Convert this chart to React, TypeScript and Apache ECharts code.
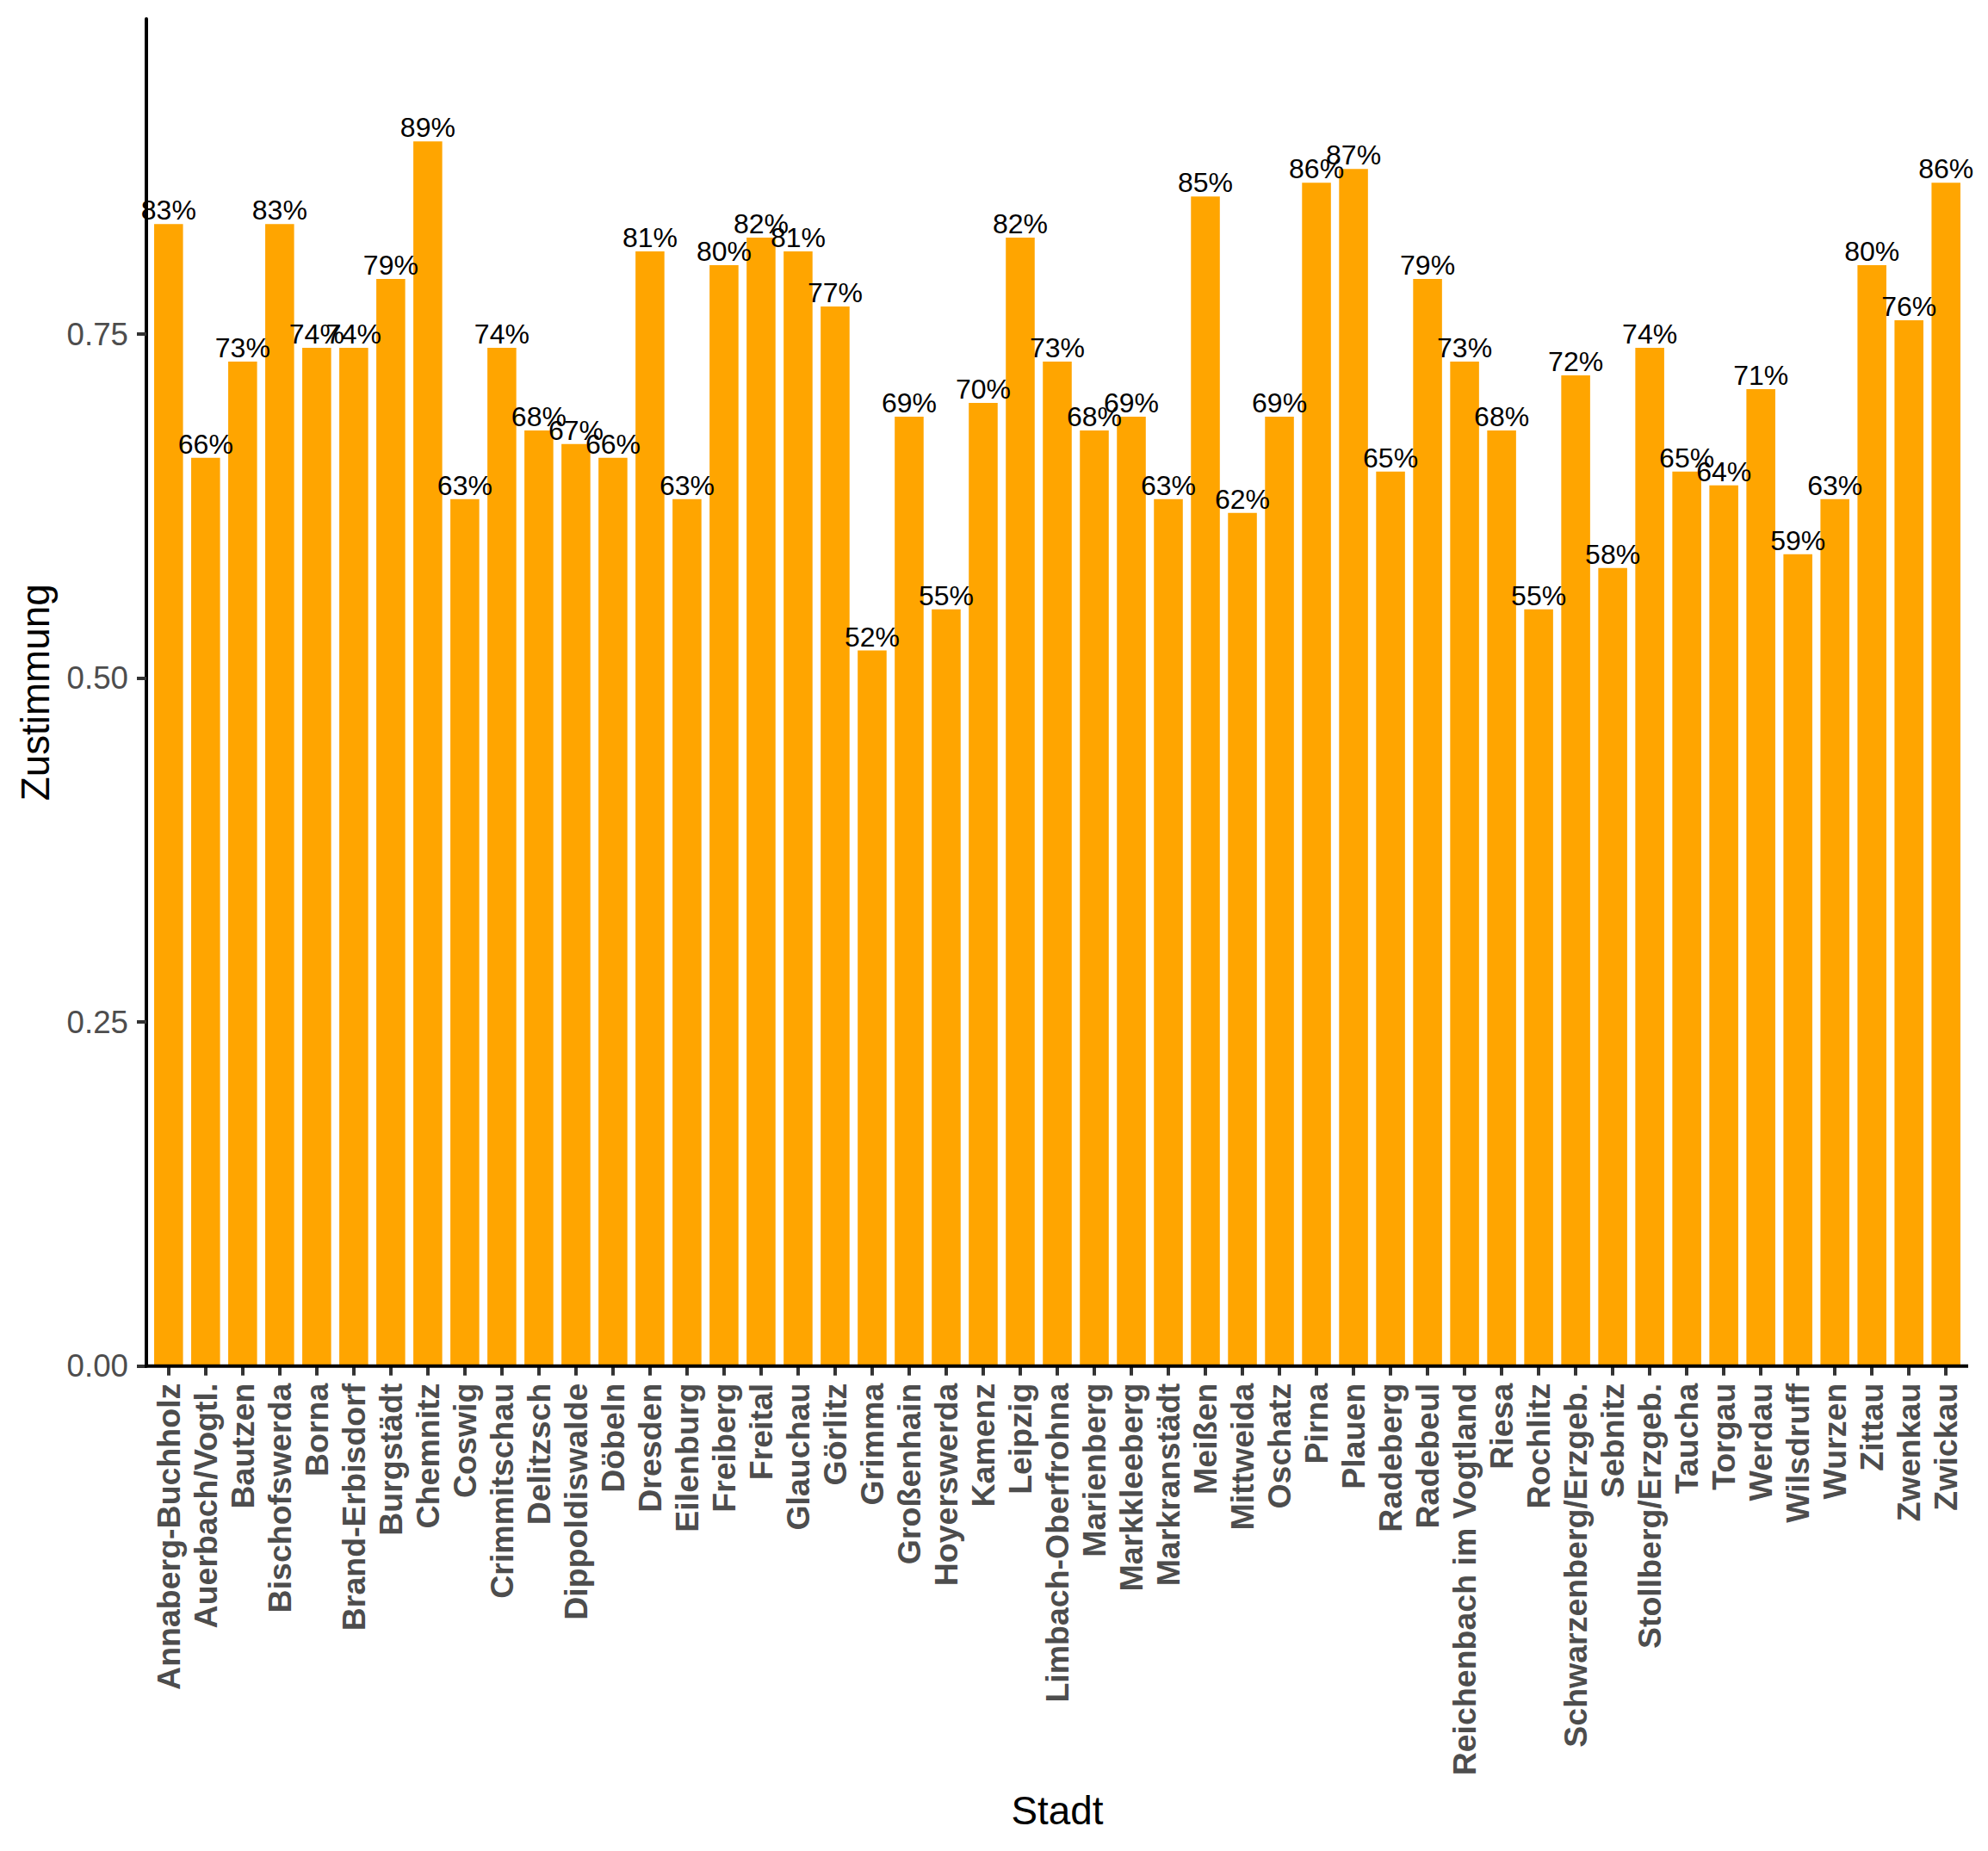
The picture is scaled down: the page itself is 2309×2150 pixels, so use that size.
import React, { useEffect, useRef } from "react";
import * as echarts from "echarts";

const cities = [
  "Annaberg-Buchholz", "Auerbach/Vogtl.", "Bautzen", "Bischofswerda", "Borna",
  "Brand-Erbisdorf", "Burgstädt", "Chemnitz", "Coswig", "Crimmitschau",
  "Delitzsch", "Dippoldiswalde", "Döbeln", "Dresden", "Eilenburg",
  "Freiberg", "Freital", "Glauchau", "Görlitz", "Grimma",
  "Großenhain", "Hoyerswerda", "Kamenz", "Leipzig", "Limbach-Oberfrohna",
  "Marienberg", "Markkleeberg", "Markranstädt", "Meißen", "Mittweida",
  "Oschatz", "Pirna", "Plauen", "Radeberg", "Radebeul",
  "Reichenbach im Vogtland", "Riesa", "Rochlitz", "Schwarzenberg/Erzgeb.", "Sebnitz",
  "Stollberg/Erzgeb.", "Taucha", "Torgau", "Werdau", "Wilsdruff",
  "Wurzen", "Zittau", "Zwenkau", "Zwickau",
];

const approval = [
  0.83, 0.66, 0.73, 0.83, 0.74,
  0.74, 0.79, 0.89, 0.63, 0.74,
  0.68, 0.67, 0.66, 0.81, 0.63,
  0.80, 0.82, 0.81, 0.77, 0.52,
  0.69, 0.55, 0.70, 0.82, 0.73,
  0.68, 0.69, 0.63, 0.85, 0.62,
  0.69, 0.86, 0.87, 0.65, 0.79,
  0.73, 0.68, 0.55, 0.72, 0.58,
  0.74, 0.65, 0.64, 0.71, 0.59,
  0.63, 0.80, 0.76, 0.86,
];

const yTicks = [0, 0.25, 0.5, 0.75];
const yMin = 0;
const yMax = 0.979;

const xTitle = "Stadt";
const yTitle = "Zustimmung";

const FONT = "'Liberation Sans', Arial, Helvetica, sans-serif";

export default function App() {
  const ref = useRef<HTMLDivElement>(null);

  useEffect(() => {
    if (!ref.current) return;
    const chart = echarts.init(ref.current, undefined, { renderer: "svg" });

    const panelLeft = 170;
    const panelRight = 2286;
    const panelTop = 22;
    const panelBottom = 1586.7;
    const unit = (panelRight - panelLeft) / (cities.length + 0.2);
    const pad = unit * 0.1;

    chart.setOption({
      animation: false,
      backgroundColor: "#ffffff",
      grid: {
        left: panelLeft + pad,
        right: 2309 - (panelRight - pad),
        top: panelTop,
        bottom: 2150 - panelBottom,
        containLabel: false,
      },
      xAxis: {
        type: "category",
        data: cities,
        axisLine: { show: false },
        axisTick: {
          show: true,
          alignWithLabel: true,
          length: 11,
          lineStyle: { color: "#333333", width: 4 },
        },
        axisLabel: {
          interval: 0,
          rotate: 90,
          margin: 20,
          color: "#4D4D4D",
          fontWeight: "bold",
          fontSize: 37.5,
          fontFamily: FONT,
        },
        splitLine: { show: false },
      },
      yAxis: {
        type: "value",
        min: yMin,
        max: yMax,
        offset: pad,
        axisLine: { show: true, lineStyle: { color: "#000000", width: 4 } },
        axisTick: {
          show: true,
          length: 11,
          customValues: yTicks,
          lineStyle: { color: "#333333", width: 4 },
        },
        axisLabel: {
          margin: 21,
          customValues: yTicks,
          color: "#4D4D4D",
          fontSize: 36.7,
          fontFamily: FONT,
          formatter: (v: number) => v.toFixed(2),
        },
        splitLine: { show: false },
      },
      series: [
        {
          type: "bar",
          data: approval,
          barWidth: "78%",
          itemStyle: { color: "#FFA500" },
          label: {
            show: true,
            position: "top",
            distance: 0,
            color: "#000000",
            fontSize: 32,
            fontFamily: FONT,
            formatter: (p: any) => Math.round(p.value * 100) + "%",
          },
        },
      ],
      graphic: [
        {
          type: "line",
          shape: { x1: panelLeft - 2, y1: panelBottom, x2: panelRight, y2: panelBottom },
          style: { stroke: "#000000", lineWidth: 4 },
          z: 100,
        },
        {
          type: "text",
          x: (panelLeft + panelRight) / 2,
          y: 2103,
          style: {
            text: xTitle,
            fontSize: 45.8,
            fontFamily: FONT,
            fill: "#000000",
            textAlign: "center",
            textVerticalAlign: "middle",
          },
        },
        {
          type: "text",
          x: 41,
          y: (panelTop + panelBottom) / 2,
          rotation: Math.PI / 2,
          style: {
            text: yTitle,
            fontSize: 45.8,
            fontFamily: FONT,
            fill: "#000000",
            textAlign: "center",
            textVerticalAlign: "middle",
          },
        },
      ],
    });

    return () => {
      chart.dispose();
    };
  }, []);

  return (
    <div
      ref={ref}
      style={{ position: "absolute", left: 0, top: 0, width: 2309, height: 2150 }}
    />
  );
}
